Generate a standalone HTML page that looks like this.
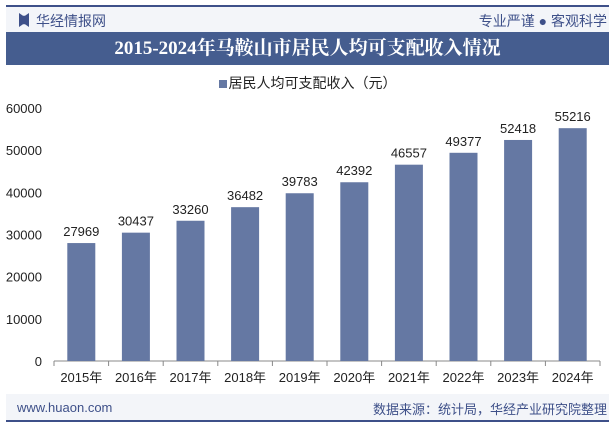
<!DOCTYPE html>
<html><head><meta charset="utf-8"><style>
body{margin:0;width:615px;height:427px;background:#fff;font-family:"Liberation Sans","Noto Sans CJK SC",sans-serif;position:relative;overflow:hidden}
.abs{position:absolute}
</style></head><body>
<div class="abs" style="left:6px;top:5px;width:603px;height:2px;background:#3e5089"></div>
<div class="abs" style="left:6px;top:7px;width:603px;height:25px;background:#f3f5f9"></div>
<div class="abs" style="left:19px;top:13px;width:10px;height:14px;background:#3e5089;clip-path:polygon(0 0,40% 20%,60% 20%,100% 0,100% 100%,60% 80%,40% 80%,0 100%)"></div>
<div class="abs" style="left:36px;top:11px;font-size:14px;color:#3e5089">华经情报网</div>
<div class="abs" style="right:8px;top:11px;font-size:14px;color:#3e5089">专业严谨 ● 客观科学</div>
<div class="abs" style="left:6px;top:32px;width:603px;height:33px;background:#455d8f;color:#fff;font-family:'Liberation Serif','Noto Serif CJK SC',serif;font-weight:bold;font-size:19px;line-height:33px;text-align:center">2015-2024年马鞍山市居民人均可支配收入情况</div>
<div class="abs" style="left:0;width:615px;top:73px;text-align:center;font-size:14px;color:#222"><span style="display:inline-block;width:8px;height:8px;background:#6578a3;margin-right:2px"></span>居民人均可支配收入（元）</div>
<svg class="abs" style="left:0;top:0" width="615" height="427" id="chart"></svg>
<div class="abs" style="left:6px;top:394px;width:603px;height:26px;background:#f3f5f9"></div>
<div class="abs" style="left:6px;top:420px;width:603px;height:2px;background:#3e5089"></div>
<div class="abs" style="left:17px;top:400px;font-size:13px;color:#3e5089">www.huaon.com</div>
<div class="abs" style="right:8px;top:399px;font-size:13px;color:#3e5089">数据来源：统计局，华经产业研究院整理</div>
<script>
const categories=["2015年","2016年","2017年","2018年","2019年","2020年","2021年","2022年","2023年","2024年"];
const values=[27969,30437,33260,36482,39783,42392,46557,49377,52418,55216];
const yTicks=[0,10000,20000,30000,40000,50000,60000];
const svg=document.getElementById('chart');const NS='http://www.w3.org/2000/svg';
const x0=54,x1=600,y0=361,yTop=108,yMax=60000;
const cw=(x1-x0)/categories.length;
const y=v=>y0-(v/yMax)*(y0-yTop);
function mk(t,a,txt){const e=document.createElementNS(NS,t);for(const k in a)e.setAttribute(k,a[k]);if(txt!==undefined)e.textContent=txt;svg.appendChild(e);return e;}
yTicks.forEach(t=>{const e=mk('text',{x:42,y:y(t)+5,'text-anchor':'end','font-size':13,fill:'#222'},t);

});
const ax=mk('line',{x1:x0,x2:x1,y1:y0,y2:y0,stroke:'#888'});


for(let i=0;i<=categories.length;i++){const t=mk('line',{x1:x0+i*cw,x2:x0+i*cw,y1:y0,y2:y0+5,stroke:'#888'});

}
categories.forEach((c,i)=>{const cx=x0+cw*(i+0.5);const bw=28;
const b=mk('rect',{x:cx-bw/2,y:y(values[i]),width:bw,height:y0-y(values[i]),fill:'#6578a3'});


const l=mk('text',{x:cx,y:y(values[i])-7,'text-anchor':'middle','font-size':13,fill:'#222'},values[i]);


const xl=mk('text',{x:cx,y:382,'text-anchor':'middle','font-size':13,fill:'#222'},c);

});
</script>
</body></html>
